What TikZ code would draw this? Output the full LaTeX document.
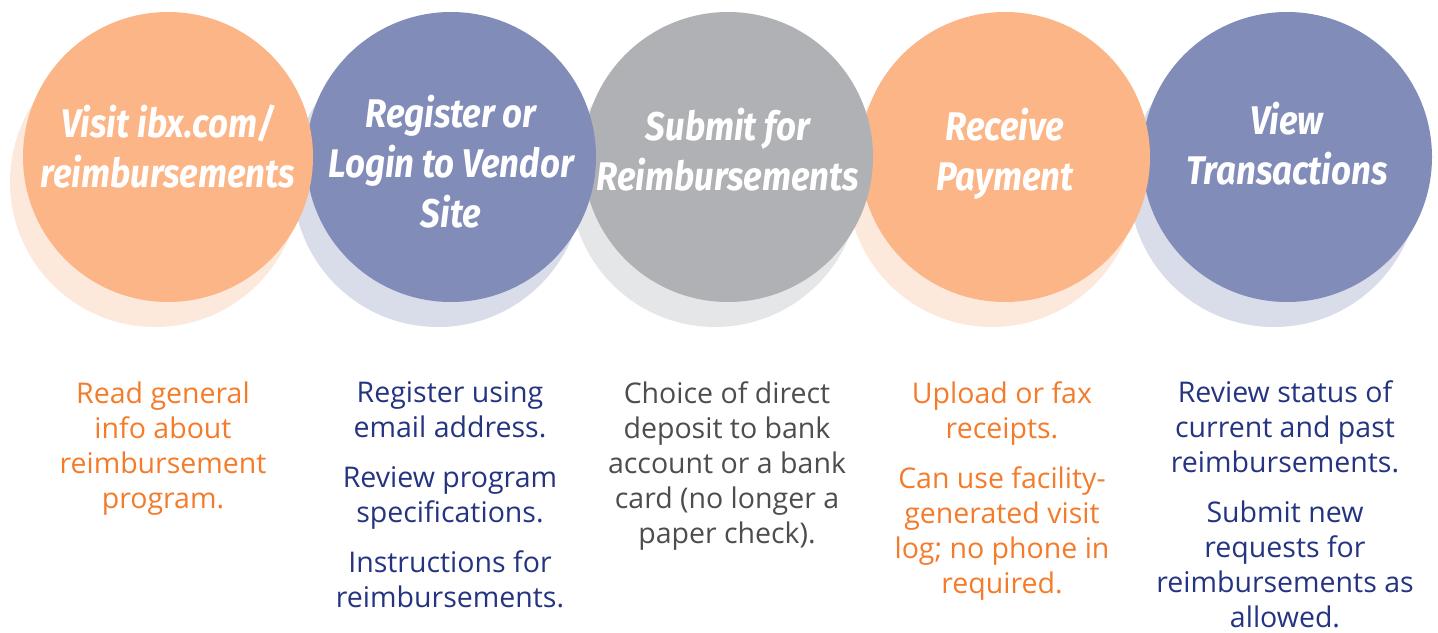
\documentclass[tikz,border=0pt]{standalone}
\usepackage{fontspec}
\setmainfont{Open Sans}
\newfontfamily\headfont[FakeStretch=0.87]{Fira Sans}
\definecolor{peach}{HTML}{FCB586}
\definecolor{peachsh}{HTML}{FDE9DC}
\definecolor{slate}{HTML}{818CB9}
\definecolor{slatesh}{HTML}{D9DCE9}
\definecolor{stone}{HTML}{B0B1B5}
\definecolor{stonesh}{HTML}{E5E6E8}
\definecolor{txtorange}{HTML}{F47B2A}
\definecolor{txtnavy}{HTML}{253481}
\definecolor{txtgray}{HTML}{4D4D4F}
\begin{document}
\begin{tikzpicture}[x=1pt,y=-1pt,
  disc/.style={circle, minimum size=290pt, inner sep=0pt, draw=none},
  head/.style={text=white, align=center, inner sep=0pt, anchor=base,
    font=\headfont\bfseries\itshape\fontsize{40}{50}\selectfont},
  note/.style={align=center, inner sep=0pt, anchor=base,
    font=\fontsize{28.5}{35}\selectfont}]
\useasboundingbox (0,0) rectangle (1438,632);

% discs, drawn right to left so each one overlaps its right neighbour
\node[disc, fill=slatesh] (s5) at (1274,182) {};
\node[disc, fill=slate]   (c5) at (1287,157) {};
\node[disc, fill=peachsh] (s4) at (992,182) {};
\node[disc, fill=peach]   (c4) at (1005,157) {};
\node[disc, fill=stonesh] (s3) at (715,182) {};
\node[disc, fill=stone]   (c3) at (728,157) {};
\node[disc, fill=slatesh] (s2) at (438,182) {};
\node[disc, fill=slate]   (c2) at (451,157) {};
\node[disc, fill=peachsh] (s1) at (155,182) {};
\node[disc, fill=peach]   (c1) at (168,157) {};

% step titles (anchored at the baseline of their last line)
\node[head] (h1) at (168,187) {Visit ibx.com/\\reimbursements};
\node[head] (h2) at (451,227) {Register or\\Login to Vendor\\Site};
\node[head] (h3) at (728,190) {Submit for\\Reimbursements};
\node[head] (h4) at (1005,190) {Receive\\Payment};
\node[head] (h5) at (1287,184) {View\\Transactions};

% step descriptions (anchored at the baseline of their last line)
\node[note, text=txtorange] (n1) at (163,508)
  {Read general\\info about\\reimbursement\\program.};
\node[note, text=txtnavy] (n2) at (450,607)
  {Register using\\email address.\\[15pt]Review program\\specifications.\\[15pt]Instructions for\\reimbursements.};
\node[note, text=txtgray] (n3) at (727,543)
  {Choice of direct\\deposit to bank\\account or a bank\\card (no longer a\\paper check).};
\node[note, text=txtorange] (n4) at (1002,593)
  {Upload or fax\\receipts.\\[15pt]Can use facility-\\generated visit\\log; no phone in\\required.};
\node[note, text=txtnavy] (n5) at (1285,627)
  {Review status of\\current and past\\reimbursements.\\[15pt]Submit new\\requests for\\reimbursements as\\allowed.};
\end{tikzpicture}
\end{document}
